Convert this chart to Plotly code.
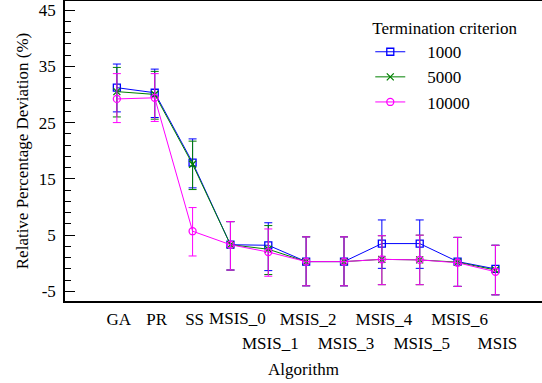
import plotly.graph_objects as go

categories = ["GA", "PR", "SS", "MSIS_0", "MSIS_1", "MSIS_2", "MSIS_3",
              "MSIS_4", "MSIS_5", "MSIS_6", "MSIS"]
# labels shown on second row under the axis
second_row = ["MSIS_1", "MSIS_3", "MSIS_5", "MSIS"]
# label drawn slightly off-centre in the original
offset_label = ["MSIS_0"]

rpd_1000 = [31.2, 30.3, 17.9, 3.3, 3.2, 0.3, 0.3, 3.5, 3.5, 0.3, -1.0]
hi_1000 = [35.4, 34.5, 22.1, 7.4, 7.2, 4.7, 4.7, 7.7, 7.7, 4.6, 3.2]
lo_1000 = [26.9, 25.9, 13.4, -1.2, -1.3, -4.0, -4.0, -0.9, -0.9, -4.1, -5.6]

rpd_5000 = [30.5, 30.0, 17.6, 3.3, 2.5, 0.3, 0.3, 0.7, 0.6, 0.2, -1.2]
hi_5000 = [34.8, 34.1, 21.7, 7.4, 6.7, 4.7, 4.7, 4.9, 5.0, 4.6, 3.2]
lo_5000 = [26.0, 25.6, 13.1, -1.2, -2.0, -4.0, -4.0, -3.8, -3.8, -4.1, -5.6]

rpd_10000 = [29.2, 29.4, 5.7, 3.3, 2.0, 0.3, 0.3, 0.7, 0.6, 0.1, -1.5]
hi_10000 = [33.7, 33.7, 9.9, 7.4, 6.1, 4.7, 4.7, 4.9, 5.0, 4.6, 3.2]
lo_10000 = [25.0, 25.2, 1.3, -1.2, -2.3, -4.0, -4.0, -3.8, -3.8, -4.1, -5.6]

y_ticks = [-5, 5, 15, 25, 35, 45]
y_ticklabels = ["-5", "5", "15", "25", "35", "45"]

FONT = "Times New Roman, serif"
NB = "\u00a0"

xpos = list(range(len(categories)))
row1 = [(i, c) for i, c in enumerate(categories) if c not in second_row and c not in offset_label]
row2 = [(i, c) for i, c in enumerate(categories) if c in second_row]
row1b = [(i, c) for i, c in enumerate(categories) if c in offset_label]

series = [
    ("1000", rpd_1000, hi_1000, lo_1000, "#0000ff", "square-open", 7, "x"),
    ("5000", rpd_5000, hi_5000, lo_5000, "#008000", "x-thin-open", 7, "x2"),
    ("10000", rpd_10000, hi_10000, lo_10000, "#ff00ff", "circle-open", 7, "x3"),
]

fig = go.Figure()
for name, v, hi, lo, col, sym, sz, xa in series:
    fig.add_trace(go.Scatter(
        x=xpos, y=v, mode="lines+markers", xaxis=xa, yaxis="y",
        name=NB * 4 + name,
        line=dict(color=col, width=1),
        marker=dict(symbol=sym, size=sz, color=col, line=dict(color=col, width=1.3)),
        error_y=dict(type="data", symmetric=False,
                     array=[h - a for h, a in zip(hi, v)],
                     arrayminus=[a - l for a, l in zip(v, lo)],
                     color=col, thickness=1, width=4),
    ))

XR = [-1.37, 11.23]
YR = [-6.7, 46.6]


def label_axis(rows, standoff, shift, **extra):
    d = dict(
        range=XR, tickmode="array",
        tickvals=[i for i, _ in rows], ticktext=[c for _, c in rows],
        tickangle=0, ticks="", showgrid=False, zeroline=False,
        tickfont=dict(family=FONT, size=17),
        ticklabelstandoff=standoff, ticklabelshift=shift,
    )
    d.update(extra)
    return d


fig.update_layout(
    width=542, height=383,
    margin=dict(l=65, r=0, t=1, b=82),
    paper_bgcolor="white", plot_bgcolor="white",
    font=dict(family=FONT, size=17, color="black"),
    showlegend=True,
    legend=dict(
        title=dict(text="Termination criterion", font=dict(family=FONT, size=17)),
        x=0.64, y=0.963, xanchor="left", yanchor="top",
        bgcolor="rgba(0,0,0,0)", font=dict(family=FONT, size=17),
        itemwidth=30, traceorder="normal",
    ),
    xaxis=label_axis(
        row1, 2, 2,
        showline=True, linecolor="black", linewidth=1.5, mirror=True,
        title=dict(text="Algorithm", font=dict(family=FONT, size=17), standoff=35),
    ),
    xaxis2=label_axis(row2, 30, 2, overlaying="x", side="bottom", anchor="y", showline=False),
    xaxis3=label_axis(row1b, 5, 7, overlaying="x", side="bottom", anchor="y", showline=False),
    yaxis=dict(
        range=YR, tickmode="array", tickvals=y_ticks, ticktext=y_ticklabels,
        ticks="inside", ticklen=10, tickwidth=1, tickcolor="black",
        minor=dict(tickmode="linear", tick0=-5, dtick=2, ticks="inside", ticklen=6,
                   tickwidth=1, tickcolor="black", showgrid=False),
        showgrid=False, zeroline=False,
        showline=True, linecolor="black", linewidth=1.5, mirror=False,
        tickfont=dict(family=FONT, size=17),
        ticklabelstandoff=4,
        title=dict(text="Relative Percentage Deviation (%)", font=dict(family=FONT, size=17), standoff=6),
    ),
    yaxis2=dict(
        overlaying="y", side="right", range=YR, tickmode="array", tickvals=y_ticks,
        ticks="inside", ticklen=6, tickwidth=1, tickcolor="black",
        showticklabels=False, showgrid=False, zeroline=False, showline=False,
    ),
)

fig.write_html("out.html")
